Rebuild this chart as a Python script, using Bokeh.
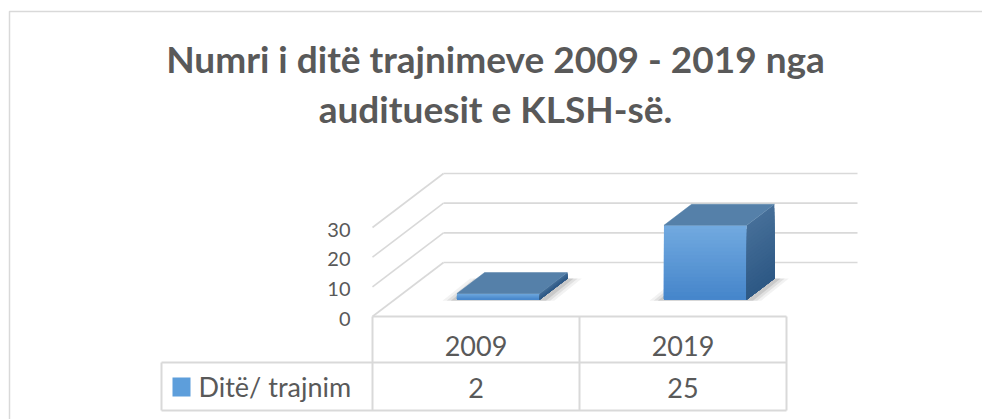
from bokeh.plotting import figure
from bokeh.models import Range1d
from bokeh.embed import file_html
from bokeh.resources import INLINE
from bokeh.core.properties import value

# ---------------- data ----------------
title_lines = ["Numri i ditë trajnimeve 2009 - 2019 nga", "audituesit e KLSH-së."]
categories = ["2009", "2019"]
values = [2, 25]
series_name = "Ditë/ trajnim"
y_ticks = [0, 10, 20, 30]

# ---------------- layout constants (page pixels) ----------------
W, H = 982, 419
ORIGIN = 0
FRONT_LEFT_PX = 372      # x of category 0 at the front plane
ZERO_PY = 316            # y of value 0 at the front plane
CAT_PX = 207             # pixels per category
UNIT_PX = 89 / 30        # pixels per value unit
DEPTH_DX_PX, DEPTH_DY_PX = 71, 54

def cx(px):
    return (px - FRONT_LEFT_PX) / CAT_PX

def cy(py):
    return (ZERO_PY - py) / UNIT_PX

DX = DEPTH_DX_PX / CAT_PX
DY = DEPTH_DY_PX / UNIT_PX
BAR_W = 0.4
F0, F1 = 0.315, 0.704    # bar depth span (fraction of floor depth)

GRID = "#d9d9d9"
TXT = "#595959"
FONT = value("Lato")

p = figure(width=W, height=H, output_backend="svg", toolbar_location=None,
           x_range=Range1d(cx(ORIGIN), cx(ORIGIN + W)),
           y_range=Range1d(cy(ORIGIN + H), cy(ORIGIN)),
           x_axis_location=None, y_axis_location=None, min_border=0)
p.grid.visible = False
p.outline_line_color = None
p.background_fill_color = "white"

# chart border (top & left visible)
p.line([cx(9), cx(9), cx(1000)], [cy(440), cy(11), cy(11)], line_color=GRID, line_width=1.5)

# title
for line, mid in zip(title_lines, [58, 108]):
    p.text(x=[cx(495)], y=[cy(mid)], text=[line], text_font=FONT, text_font_style="bold",
           text_font_size="37px", text_color=TXT, text_align="center",
           text_baseline="middle")

n = len(categories)
# walls
p.segment(x0=[0] * len(y_ticks), y0=y_ticks, x1=[DX] * len(y_ticks),
          y1=[t + DY for t in y_ticks], line_color=GRID, line_width=1.6)
p.segment(x0=[DX] * len(y_ticks), y0=[t + DY for t in y_ticks],
          x1=[n + DX] * len(y_ticks), y1=[t + DY for t in y_ticks],
          line_color=GRID, line_width=1.6)

# axis tick labels
p.text(x=[cx(350)] * len(y_ticks), y=y_ticks, text=[str(t) for t in y_ticks],
       text_font=FONT, text_font_size="20px", text_color=TXT, text_align="right",
       text_baseline="middle", y_offset=2)

def lerp(c1, c2, t):
    a = [int(c1[i:i + 2], 16) for i in (1, 3, 5)]
    b = [int(c2[i:i + 2], 16) for i in (1, 3, 5)]
    return "#%02x%02x%02x" % tuple(round(a[j] + (b[j] - a[j]) * t) for j in range(3))

NB = 20
for i, v in enumerate(values):
    x0 = i + (1 - BAR_W) / 2
    x1 = x0 + BAR_W
    bot = F0 * DY
    top = bot + v
    ddx, ddy = (F1 - F0) * DX, (F1 - F0) * DY
    # soft shadow on floor
    for s, a in [(0.07, 0.05), (0.05, 0.07), (0.03, 0.10)]:
        p.patch([x0 - s + F0 * DX, x1 + s + F0 * DX, x1 + s + F1 * DX, x0 - s + F1 * DX],
                [bot - 0.4, bot - 0.4, bot + ddy, bot + ddy],
                fill_color="black", fill_alpha=a, line_color=None)
    # front face gradient (overlapping bands, no seams)
    lefts, rights, bots, tops, cols = [], [], [], [], []
    for k in range(NB):
        t0 = k / NB
        lefts.append(x0 + F0 * DX)
        rights.append(x1 + F0 * DX)
        bots.append(bot)
        tops.append(top - v * t0)
        cols.append(lerp("#72aae0", "#4585ca", t0 + 0.5 / NB))
    p.quad(left=lefts, right=rights, bottom=bots, top=tops, fill_color=cols, line_color=None)
    # side face gradient
    xs, ys, scol = [], [], []
    xa, xb = x1 + F0 * DX, x1 + F1 * DX
    for k in range(NB):
        t0 = k / NB
        ya = top - v * t0
        xs.append([xa, xb, xb, xa])
        ys.append([ya, ya + ddy, bot + ddy, bot])
        scol.append(lerp("#466f99", "#2d5884", t0 + 0.5 / NB))
    p.patches(xs, ys, fill_color=scol, line_color=None)
    # top face
    p.patch([x0 + F0 * DX, x1 + F0 * DX, x1 + F1 * DX, x0 + F1 * DX],
            [top, top, top + ddy, top + ddy], fill_color="#5580a9", line_color="#5580a9",
            line_width=0.5)

# data table
yb1, yb2 = cy(362), cy(410)
lx = cx(161)
seg_x0 = [0, 0, 1, 2, lx, lx, lx]
seg_y0 = [0, 0, 0, 0, yb1, yb2, yb1]
seg_x1 = [n, 0, 1, 2, n, n, lx]
seg_y1 = [0, yb2, yb2, yb2, yb1, yb2, yb2]
p.segment(x0=seg_x0, y0=seg_y0, x1=seg_x1, y1=seg_y1, line_color=GRID, line_width=2)

p.text(x=[i + 0.5 for i in range(n)], y=[cy(345)] * n, text=categories, text_font=FONT,
       text_font_size="27px", text_color=TXT, text_align="center", text_baseline="middle")
p.text(x=[i + 0.5 for i in range(n)], y=[cy(387)] * n, text=[str(v) for v in values],
       text_font=FONT, text_font_size="27px", text_color=TXT, text_align="center",
       text_baseline="middle")

# legend key
p.quad(left=[cx(172)], right=[cx(190)], bottom=[cy(396)], top=[cy(377)],
       fill_color="#5d9edb", line_color=None)
p.text(x=[cx(198)], y=[cy(386)], text=[series_name], text_font=FONT, text_font_size="27px",
       text_color=TXT, text_align="left", text_baseline="middle")

open("out.html", "w").write(file_html(p, INLINE))
